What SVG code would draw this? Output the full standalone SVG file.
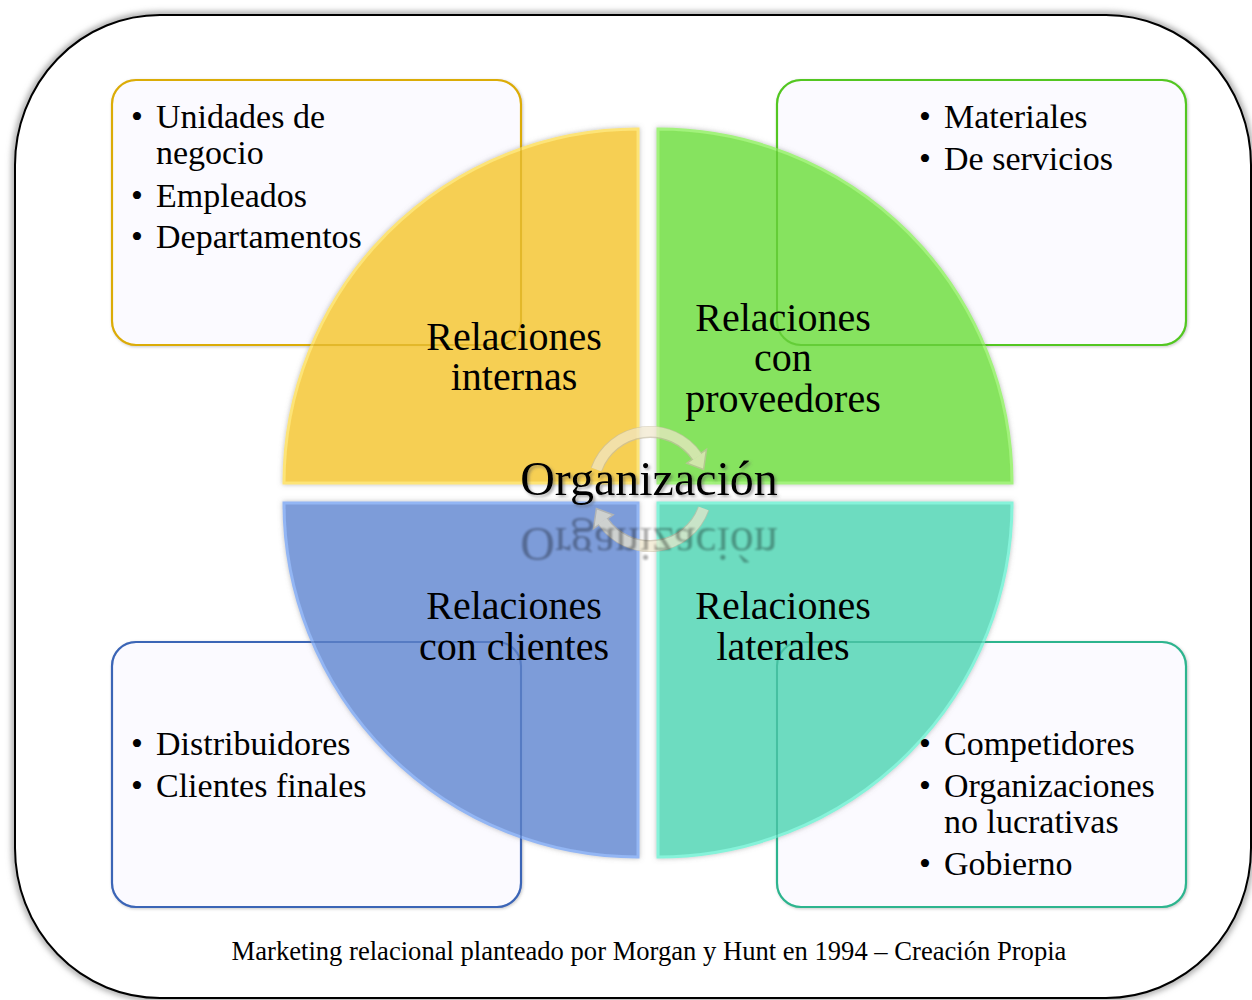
<svg xmlns="http://www.w3.org/2000/svg" width="1252" height="1000" viewBox="0 0 1252 1000">
<defs>
<style>
.t{font-family:"Liberation Serif","Times New Roman",serif;fill:#000}
.b{font-size:34px}
.q{font-size:40px;text-anchor:middle}
.box{fill:#fbfaff;stroke-width:2.2}
.ov{fill:none;stroke-width:2;stroke-opacity:0.4}
.quad{stroke-width:3;fill-opacity:0.9;filter:url(#qs)}
.arr{fill:none;stroke:#f1e8cc;stroke-width:10}
.arrO{fill:none;stroke:#c7bea6;stroke-width:12}
</style>
<filter id="fs" x="-5%" y="-5%" width="110%" height="110%">
<feGaussianBlur stdDeviation="3"/>
</filter>
<filter id="qs" x="-5%" y="-5%" width="110%" height="110%">
<feDropShadow dx="0" dy="0" stdDeviation="2.5" flood-color="#777" flood-opacity="0.5"/>
</filter>
<filter id="bs" x="-5%" y="-5%" width="110%" height="110%">
<feDropShadow dx="1" dy="1" stdDeviation="1.5" flood-color="#888" flood-opacity="0.45"/>
</filter>
<filter id="ts" x="-5%" y="-20%" width="110%" height="140%">
<feDropShadow dx="2" dy="2" stdDeviation="1.5" flood-color="#555" flood-opacity="0.5"/>
</filter>
<filter id="rb" x="-5%" y="-20%" width="110%" height="140%">
<feGaussianBlur stdDeviation="0.8"/>
</filter>
</defs>

<g id="frame">
<rect x="15" y="15" width="1236" height="983" rx="145" ry="150" fill="none" stroke="#9a9a9a" stroke-width="6" filter="url(#fs)"/>
<rect x="15" y="15" width="1236" height="983" rx="145" ry="150" fill="#fff" stroke="#000" stroke-width="2"/>
</g>

<g id="box-internas"><rect class="box" x="112" y="80" width="409" height="265" rx="24" stroke="#e8b70c" filter="url(#bs)"/></g>
<g id="box-proveedores"><rect class="box" x="777" y="80" width="409" height="265" rx="24" stroke="#62d62e" filter="url(#bs)"/></g>
<g id="box-clientes"><rect class="box" x="112" y="642" width="409" height="265" rx="24" stroke="#4670c0" filter="url(#bs)"/></g>
<g id="box-laterales"><rect class="box" x="777" y="642" width="409" height="265" rx="24" stroke="#38c49c" filter="url(#bs)"/></g>

<g id="quad-internas"><path class="quad" d="M638,483 L284,483 A354,354 0 0 1 638,129 Z" fill="#f9cf45" stroke="#fde477"/></g>
<g id="quad-proveedores"><path class="quad" d="M658,483 L658,129 A354,354 0 0 1 1012,483 Z" fill="#80e652" stroke="#a2f27c"/></g>
<g id="quad-clientes"><path class="quad" d="M638,503 L638,857 A354,354 0 0 1 284,503 Z" fill="#7698da" stroke="#93b6f4"/></g>
<g id="quad-laterales"><path class="quad" d="M658,503 L1012,503 A354,354 0 0 1 658,857 Z" fill="#64ddbf" stroke="#86f3da"/></g>

<g id="box-outlines">
<rect class="ov" x="112" y="80" width="409" height="265" rx="24" stroke="#c99a00"/>
<rect class="ov" x="777" y="80" width="409" height="265" rx="24" stroke="#3fae10"/>
<rect class="ov" x="112" y="642" width="409" height="265" rx="24" stroke="#2b55a8"/>
<rect class="ov" x="777" y="642" width="409" height="265" rx="24" stroke="#1f9e7a"/>
</g>

<g id="connectors" opacity="0.7">
<path class="arrO" d="M596.4,469.5 A57,57 0 0 1 696.7,456.3"/>
<polygon points="686.9,463.2 706.5,449.4 703.6,469.5" fill="#f1e8cc" stroke="#c7bea6" stroke-width="1.5"/>
<path class="arr" d="M596.4,469.5 A57,57 0 0 1 697.5,457"/>
<path class="arrO" d="M703.6,508.5 A57,57 0 0 1 603.3,521.7"/>
<polygon points="613.1,514.8 593.5,528.6 596.4,508.5" fill="#f1e8cc" stroke="#c7bea6" stroke-width="1.5"/>
<path class="arr" d="M703.6,508.5 A57,57 0 0 1 602.5,521"/>
</g>

<g id="center">
<text class="t" x="649" y="495" font-size="48" text-anchor="middle" filter="url(#ts)">Organización</text>
<g opacity="0.32" filter="url(#rb)"><text class="t" x="649" y="495" font-size="48" text-anchor="middle" transform="translate(0,1023) scale(1,-1)">Organización</text></g>
</g>

<g id="text-internas">
<text class="t q" x="514" y="350">Relaciones</text>
<text class="t q" x="514" y="390">internas</text>
</g>
<g id="text-proveedores">
<text class="t q" x="783" y="331">Relaciones</text>
<text class="t q" x="783" y="371">con</text>
<text class="t q" x="783" y="412">proveedores</text>
</g>
<g id="text-clientes">
<text class="t q" x="514" y="619">Relaciones</text>
<text class="t q" x="514" y="660">con clientes</text>
</g>
<g id="text-laterales">
<text class="t q" x="783" y="619">Relaciones</text>
<text class="t q" x="783" y="660">laterales</text>
</g>

<g id="list-internas" class="t b">
<text x="131" y="128">•</text><text x="156" y="128">Unidades de</text>
<text x="156" y="164">negocio</text>
<text x="131" y="207">•</text><text x="156" y="207">Empleados</text>
<text x="131" y="248">•</text><text x="156" y="248">Departamentos</text>
</g>
<g id="list-proveedores" class="t b">
<text x="919" y="128">•</text><text x="944" y="128">Materiales</text>
<text x="919" y="170">•</text><text x="944" y="170">De servicios</text>
</g>
<g id="list-clientes" class="t b">
<text x="131" y="755">•</text><text x="156" y="755">Distribuidores</text>
<text x="131" y="797">•</text><text x="156" y="797">Clientes finales</text>
</g>
<g id="list-laterales" class="t b">
<text x="919" y="755">•</text><text x="944" y="755">Competidores</text>
<text x="919" y="797">•</text><text x="944" y="797">Organizaciones</text>
<text x="944" y="833">no lucrativas</text>
<text x="919" y="875">•</text><text x="944" y="875">Gobierno</text>
</g>

<g id="caption">
<text class="t" x="649" y="960" font-size="26.6" text-anchor="middle">Marketing relacional planteado por Morgan y Hunt en 1994 – Creación Propia</text>
</g>
</svg>
